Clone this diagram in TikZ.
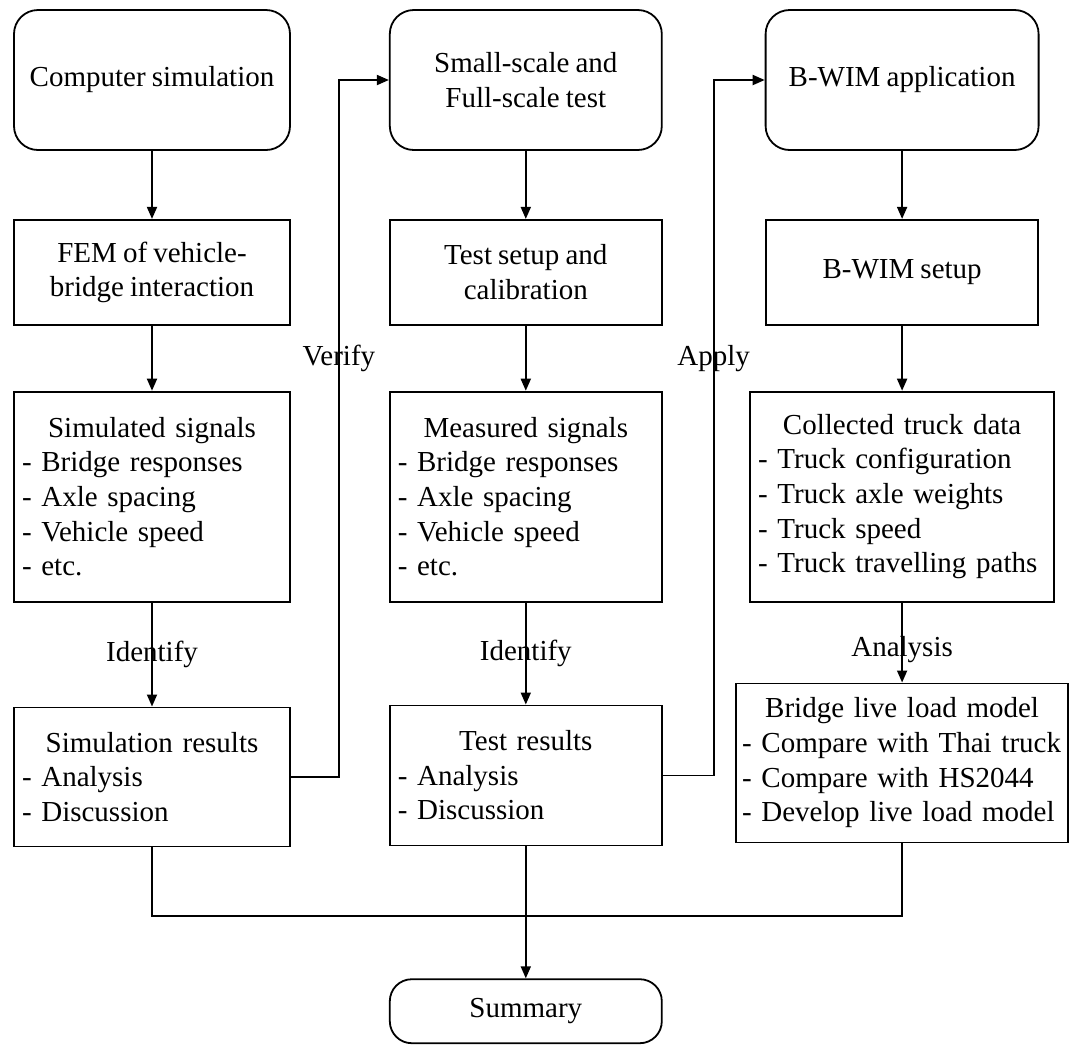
\documentclass[tikz,border=0pt]{standalone}
\usepackage{fontspec}
\setmainfont{Liberation Serif}[WordSpace=0.85]
\usetikzlibrary{positioning, arrows.meta, calc}

\newcommand{\boxhead}[1]{\makebox[\linewidth]{#1}}

\begin{document}
\begin{tikzpicture}[x=1pt, y=1pt, font=\fontsize{14.5}{17.3}\selectfont,
		frame/.style={draw, line width=0.9pt},
		startbox/.style={frame, rounded corners=12pt, minimum height=70pt, align=center},
		stepbox/.style={frame, minimum height=52.5pt, align=center},
		listbox/.style={frame, align=left, inner xsep=4pt},
		endbox/.style={frame, rounded corners=11pt, minimum width=136pt, minimum height=32pt},
		arr/.style={line width=0.9pt, -{Triangle[length=6pt,width=5pt]}}]
		\useasboundingbox (0,0) rectangle (535,-523);
		% top row
		\node[startbox, minimum width=138pt] (A1) at (76,-40) {Computer simulation};
		\node[startbox, minimum width=136pt] (B1) [right=49pt of A1] {Small-scale and\\Full-scale test};
		\node[startbox, minimum width=136.5pt] (C1) [right=51pt of B1] {B-WIM application};
		% second row
		\node[stepbox, minimum width=138pt] (A2) [below=34pt of A1] {FEM of vehicle-\\bridge interaction};
		\node[stepbox, minimum width=136pt] (B2) [below=34pt of B1] {Test setup and\\calibration};
		\node[stepbox, minimum width=136pt] (C2) [below=34pt of C1] {B-WIM setup};
		% signals and data
		\node[listbox, text width=130pt, minimum height=105pt] (A3) [below=32.5pt of A2] {\boxhead{Simulated signals}\\- Bridge responses\\- Axle spacing\\- Vehicle speed\\- etc.};
		\node[listbox, text width=128pt, minimum height=105pt] (B3) [below=32.5pt of B2] {\boxhead{Measured signals}\\- Bridge responses\\- Axle spacing\\- Vehicle speed\\- etc.};
		\node[listbox, text width=144pt, minimum height=105pt] (C3) [below=32.5pt of C2] {\boxhead{Collected truck data}\\- Truck configuration\\- Truck axle weights\\- Truck speed\\- Truck travelling paths};
		% results
		\node[listbox, text width=130pt, minimum height=69.5pt] (A4) [below=52pt of A3] {\boxhead{Simulation results}\\- Analysis\\- Discussion};
		\node[listbox, text width=128pt, minimum height=70pt] (B4) [below=51pt of B3] {\boxhead{Test results}\\- Analysis\\- Discussion};
		\node[listbox, text width=160pt, inner xsep=3pt, minimum height=79.5pt] (C4) [below=40pt of C3] {\boxhead{Bridge live load model}\\\mbox{- Compare with Thai truck}\\- Compare with HS2044\\\mbox{- Develop live load model}};
		\node[endbox] (S) [below=66pt of B4] {Summary};
		\coordinate (bus) at ($(B4.south)+(0,-35pt)$);
		% arrows
		\draw[arr] (A1) -- (A2);
		\draw[arr] (A2) -- (A3);
		\draw[arr] (A3) -- node {Identify} (A4);
		\draw[arr] (B1) -- (B2);
		\draw[arr] (B2) -- (B3);
		\draw[arr] (B3) -- node {Identify} (B4);
		\draw[arr] (C1) -- (C2);
		\draw[arr] (C2) -- (C3);
		\draw[arr] (C3) -- node[pos=0.59] {Analysis} (C4);
		\draw[arr] (A4.east) -- ++(24pt,0) |- node[pos=0.3] {Verify} (B1.west);
		\draw[arr] (B4.east) -- ++(25.5pt,0) |- node[pos=0.3] {Apply} (C1.west);
		\draw[frame] (A4.south) |- (bus) -| (C4.south);
		\draw[arr] (B4) -- (S);
	\end{tikzpicture}
\end{document}
